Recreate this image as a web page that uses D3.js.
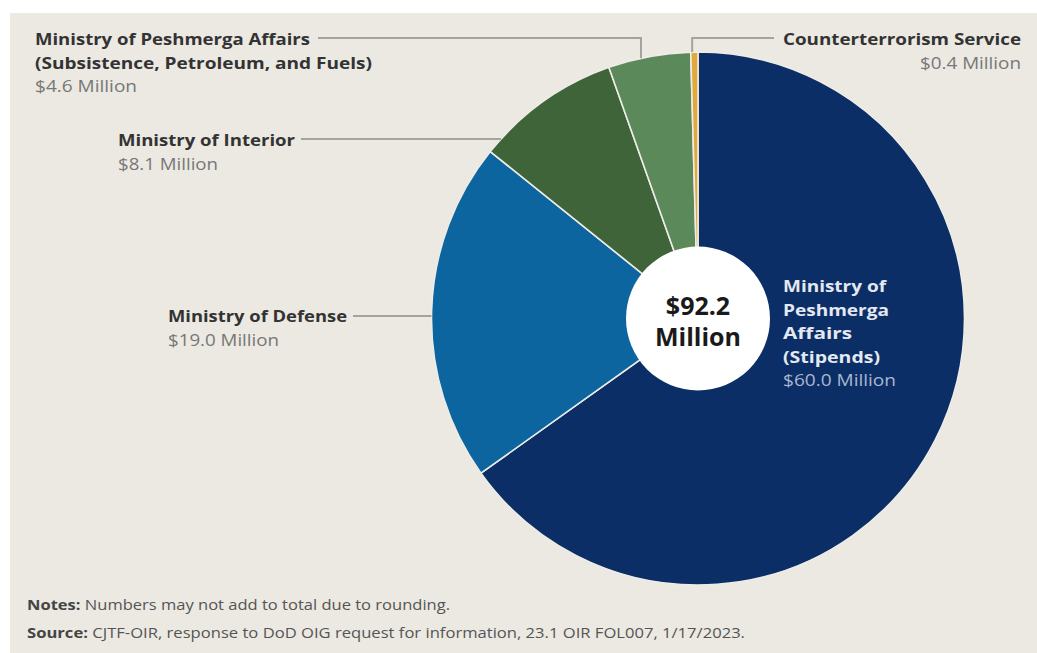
<!DOCTYPE html>
<html><head><meta charset="utf-8">
<script src="https://cdn.jsdelivr.net/npm/d3@7"></script>
<style>
html,body{margin:0;padding:0;background:#fff;}
svg{display:block;}
text{font-family:"Open Sans",sans-serif;}
</style></head>
<body>
<svg id="c" width="1037" height="653"></svg>
<script>
const categories = ["Ministry of Peshmerga Affairs (Stipends)","Ministry of Defense","Ministry of Interior","Ministry of Peshmerga Affairs (Subsistence, Petroleum, and Fuels)","Counterterrorism Service"];
const values = [60.0, 19.0, 8.1, 4.6, 0.4];
const valueLabels = ["$60.0 Million","$19.0 Million","$8.1 Million","$4.6 Million","$0.4 Million"];
const colors = ["#0b2e66","#0d65a0","#3f6439","#5b8959","#e2a93a"];
const totalLabel = ["$92.2","Million"];
const notes = "Numbers may not add to total due to rounding.";
const source = "CJTF-OIR, response to DoD OIG request for information, 23.1 OIR FOL007, 1/17/2023.";

const svg = d3.select("#c");
svg.append("rect").attr("x",10).attr("y",13).attr("width",1027).attr("height",640).attr("fill","#ebe9e2");

const cx = 698, cy = 318.5, R = 266.5;
const pie = d3.pie().sort(null).value(d=>d);
const arcs = pie(values);
const arc = d3.arc().innerRadius(0).outerRadius(R);
const g = svg.append("g").attr("transform",`translate(${cx},${cy})`);
g.selectAll("path").data(arcs).join("path")
  .attr("d",arc).attr("fill",(d,i)=>colors[i])
  .attr("stroke","#eeece6").attr("stroke-width",1.6);
g.append("circle").attr("r",72).attr("fill","#fff");
const ct = g.append("text").attr("text-anchor","middle").attr("font-size",25).attr("font-weight",700).attr("fill","#1a1a1a");
ct.append("tspan").attr("x",0).attr("y",-4).text(totalLabel[0]);
ct.append("tspan").attr("x",0).attr("y",27).text(totalLabel[1]);

const lineC = "#a3a3a0";
function leader(pts){
  svg.append("path").attr("d",d3.line()(pts)).attr("fill","none").attr("stroke",lineC).attr("stroke-width",2);
}
function edge(a, r){ return [cx + r*Math.sin(a), cy - r*Math.cos(a)]; }
function edgeAtY(y){ const dy=y-cy; return cx - Math.sqrt(R*R-dy*dy); }
function edgeAtX(x){ const dx=x-cx; return cy - Math.sqrt(R*R-dx*dx); }

function fit(sel, w){
  if (w) sel.attr("textLength", w).attr("lengthAdjust","spacingAndGlyphs");
}
function label(x, y, lines, val, anchor, fillT, fillV, widths){
  lines.forEach((l,i)=>{
    const t = svg.append("text").attr("x",x).attr("y",y+i*23.5).attr("text-anchor",anchor||"start")
      .attr("font-size",16).attr("font-weight",700).attr("fill",fillT||"#333").text(l);
    if (widths) fit(t, widths[i]);
  });
  const v = svg.append("text").attr("x",x).attr("y",y+lines.length*23.5).attr("text-anchor",anchor||"start")
    .attr("font-size",16).attr("font-weight",400).attr("fill",fillV||"#777").text(val);
  if (widths) fit(v, widths[lines.length]);
}

// Subsistence
label(35, 45, ["Ministry of Peshmerga Affairs","(Subsistence, Petroleum, and Fuels)"], valueLabels[3], "start", null, null, [275,337,102]);
const aSub = arcs[3].startAngle + 0.4*(arcs[3].endAngle-arcs[3].startAngle);
const xSub = edge(aSub, R)[0];
leader([[318,38],[xSub,38],[xSub,edgeAtX(xSub)]]);
// Interior
label(118, 146, ["Ministry of Interior"], valueLabels[2], "start", null, null, [177,100]);
leader([[301,139],[edgeAtY(139),139]]);
// Defense
label(168, 322, ["Ministry of Defense"], valueLabels[1], "start", null, null, [179,111]);
leader([[353,316],[edgeAtY(316),316]]);
// Counterterrorism
label(1021, 45, ["Counterterrorism Service"], valueLabels[4], "end", null, null, [238,101]);
const aCT = arcs[4].startAngle + 0.2*(arcs[4].endAngle-arcs[4].startAngle);
const xCT = edge(aCT, R)[0];
leader([[774,38],[xCT,38],[xCT,edgeAtX(xCT)]]);
// Stipends (inside)
label(783, 292, ["Ministry of","Peshmerga","Affairs","(Stipends)"], valueLabels[0], "start", "#e4e8f0", "#a9b7d0", [103,106,69,97,113]);

// Notes
const n = svg.append("text").attr("x",27).attr("y",610).attr("font-size",14).attr("fill","#555");
n.append("tspan").attr("font-weight",700).attr("fill","#444").text("Notes: ");
n.append("tspan").text(notes);
n.attr("textLength",423).attr("lengthAdjust","spacingAndGlyphs");
const s = svg.append("text").attr("x",27).attr("y",638).attr("font-size",14).attr("fill","#555");
s.append("tspan").attr("font-weight",700).attr("fill","#444").text("Source: ");
s.append("tspan").text(source);
s.attr("textLength",718).attr("lengthAdjust","spacingAndGlyphs");
</script>
</body></html>
